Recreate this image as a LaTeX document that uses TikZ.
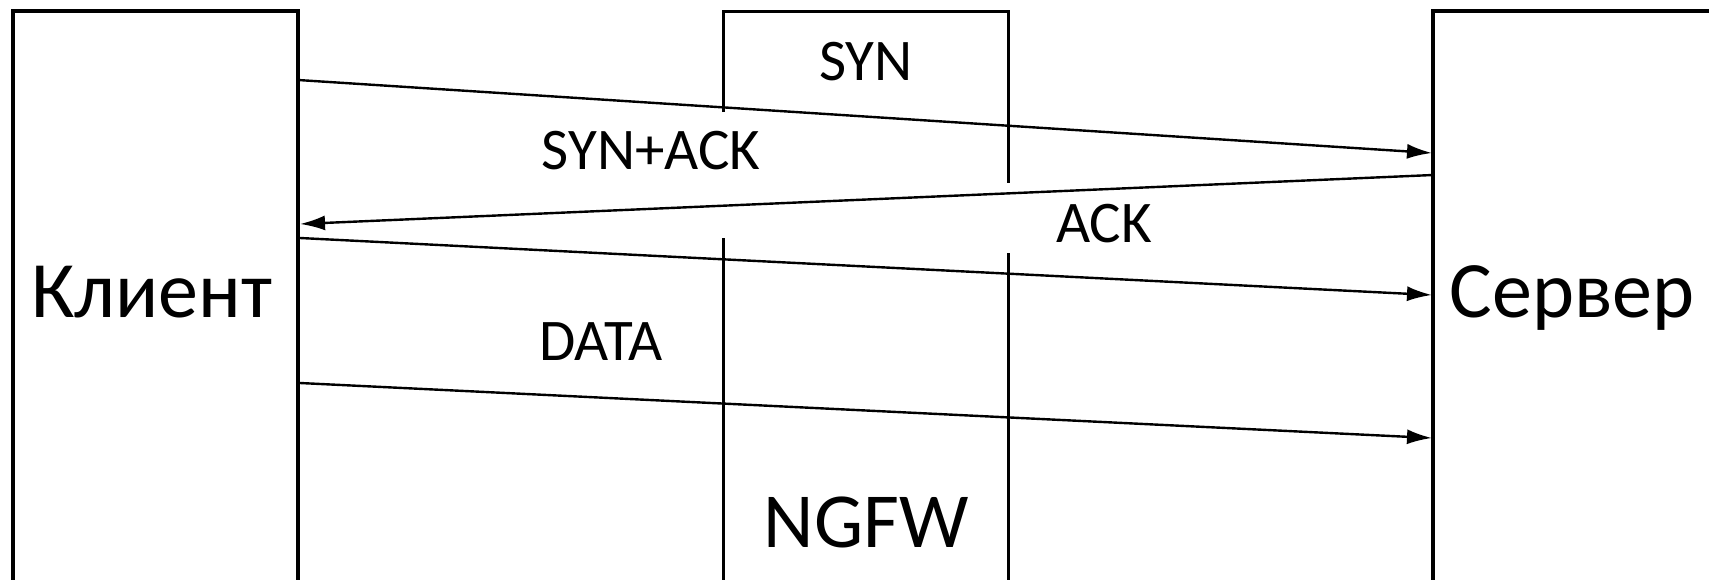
\documentclass[tikz,border=0pt]{standalone}
\usepackage{fontspec}
\setmainfont{Carlito}
\usetikzlibrary{arrows.meta}
\begin{document}
\begin{tikzpicture}[x=0.5pt,y=-0.5pt,
  boxnode/.style={draw, line width=1.6pt, rectangle, inner sep=0pt, minimum height=294.5pt},
  boxline/.style={line width=1.5pt},
  msg/.style={-{Latex[length=12.5pt,width=7.5pt]}, line width=1.2pt},
  lbl/.style={font=\fontsize{29.5pt}{32pt}\selectfont, anchor=base, inner sep=0pt},
  biglbl/.style={font=\fontsize{39pt}{42pt}\selectfont, anchor=base, inner sep=0pt},
  sidelbl/.style={font=\fontsize{40pt}{42pt}\selectfont, anchor=base, inner sep=0pt}]
\useasboundingbox (0,0) rectangle (1709,579);
\fill[white] (0,0) rectangle (1709,579);
\clip (0,0) rectangle (1709,579);
% boxes
\node[boxnode, minimum width=142.5pt] (client) at (155.5,305.5) {};
\node[boxnode, minimum width=148.5pt] (server) at (1581.5,305.5) {};
\node[draw=none, rectangle, inner sep=0pt, minimum width=142.5pt, minimum height=294.5pt] (ngfw) at (865.5,305.5) {};
% NGFW box outline with gaps
\draw[boxline] (723,112) -- (723,11) -- (1008,11) -- (1008,183);
\draw[boxline] (723,238) -- (723,600);
\draw[boxline] (1008,253) -- (1008,600);
% endpoints
\coordinate (synA) at (298,80);
\coordinate (synB) at (1432,153);
\coordinate (saA) at (1433,175);
\coordinate (saB) at (300,224);
\coordinate (ackA) at (300,238);
\coordinate (ackB) at (1432,295);
\coordinate (datA) at (300,383);
\coordinate (datB) at (1432,438);
% messages
\draw[msg] (synA) -- (synB);
\draw[msg] (saA) -- (saB);
\draw[msg] (ackA) -- (ackB);
\draw[msg] (datA) -- (datB);
% labels
\node[lbl] (lsyn) at (866,80) {SYN};
\node[lbl] (lsynack) at (651,169) {SYN+ACK};
\node[lbl] (lack) at (1104,242) {ACK};
\node[lbl] (ldata) at (601,360) {DATA};
\node[biglbl] (lngfw) at (866,547) {NGFW};
\node[sidelbl] (lclient) at (152,317) {Клиент};
\node[sidelbl] (lserver) at (1572,317) {Сервер};
\end{tikzpicture}
\end{document}
